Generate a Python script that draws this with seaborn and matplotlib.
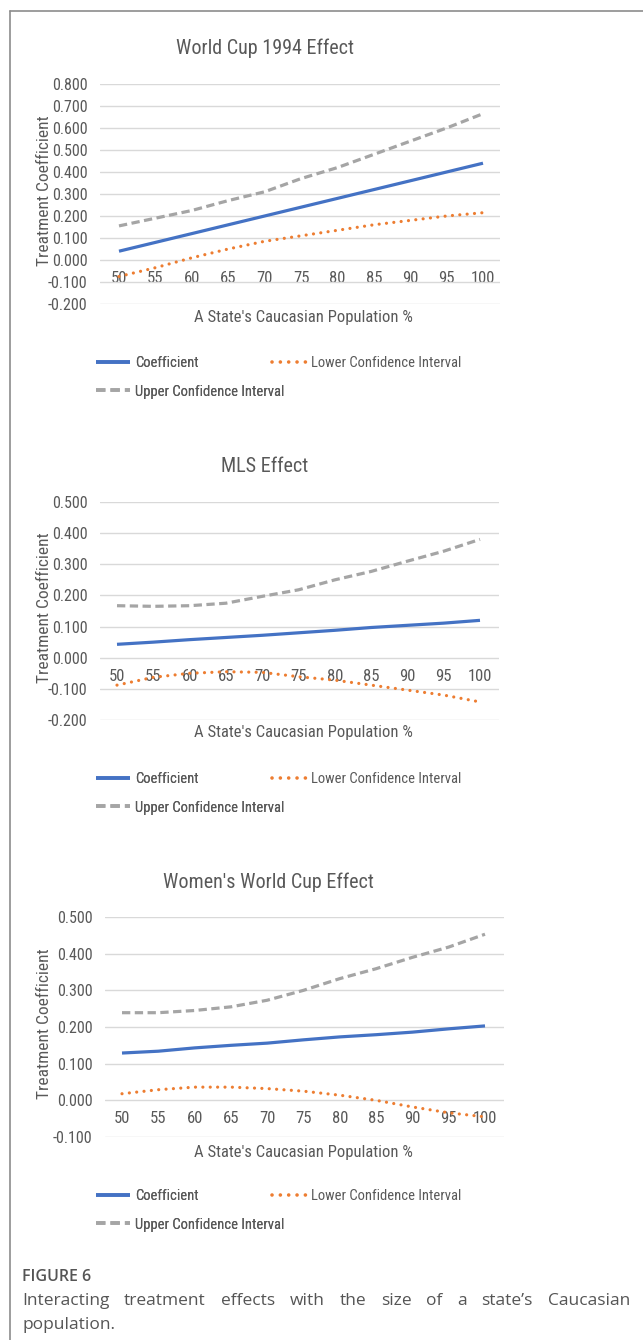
import matplotlib
matplotlib.use("Agg")
import matplotlib.pyplot as plt
import seaborn as sns
import pandas as pd
from matplotlib.lines import Line2D
from matplotlib import font_manager
from matplotlib.font_manager import FontProperties

sns.set_theme(style="white")

# ---------------- data ----------------
x_pct = [50, 55, 60, 65, 70, 75, 80, 85, 90, 95, 100]

wc94_coef = [0.040, 0.080, 0.120, 0.160, 0.200, 0.240, 0.280, 0.320, 0.360, 0.400, 0.440]
wc94_lower = [-0.075, -0.035, 0.010, 0.050, 0.085, 0.110, 0.135, 0.160, 0.180, 0.200, 0.215]
wc94_upper = [0.155, 0.190, 0.225, 0.270, 0.310, 0.370, 0.420, 0.480, 0.540, 0.600, 0.665]

mls_coef = [0.043, 0.050, 0.058, 0.065, 0.072, 0.080, 0.088, 0.097, 0.104, 0.111, 0.120]
mls_lower = [-0.088, -0.063, -0.050, -0.045, -0.047, -0.061, -0.072, -0.088, -0.104, -0.120, -0.142]
mls_upper = [0.167, 0.165, 0.167, 0.175, 0.197, 0.218, 0.250, 0.277, 0.310, 0.342, 0.380]

wwc_coef = [0.129, 0.134, 0.143, 0.150, 0.156, 0.165, 0.173, 0.179, 0.186, 0.195, 0.203]
wwc_lower = [0.018, 0.029, 0.036, 0.036, 0.032, 0.025, 0.014, 0.000, -0.018, -0.034, -0.045]
wwc_upper = [0.239, 0.239, 0.245, 0.255, 0.273, 0.300, 0.332, 0.359, 0.390, 0.418, 0.453]

titles = ["World Cup 1994 Effect", "MLS Effect", "Women's World Cup Effect"]
y_ticks = [
    [-0.2, -0.1, 0.0, 0.1, 0.2, 0.3, 0.4, 0.5, 0.6, 0.7, 0.8],
    [-0.2, -0.1, 0.0, 0.1, 0.2, 0.3, 0.4, 0.5],
    [-0.1, 0.0, 0.1, 0.2, 0.3, 0.4, 0.5],
]
series_names = ["Coefficient", "Lower Confidence Interval", "Upper Confidence Interval"]
x_label = "A State's Caucasian Population %"
y_label = "Treatment Coefficient"
caption_head = "FIGURE 6"
caption_text = "Interacting treatment effects with the size of a state\u2019s Caucasian population."

panels = [
    (wc94_coef, wc94_lower, wc94_upper),
    (mls_coef, mls_lower, mls_upper),
    (wwc_coef, wwc_lower, wwc_upper),
]

# ---------------- fonts ----------------
cond = None
for f in font_manager.fontManager.ttflist:
    if (str(f.stretch) in ("condensed", "semi-condensed", "extra-condensed", "ultra-condensed")
            or (isinstance(f.stretch, int) and f.stretch < 500)
            or "Narrow" in f.name or "Condensed" in f.name):
        if f.style == "normal" and f.weight in (400, "normal", "regular") and "Bold" not in f.fname \
                and "Italic" not in f.fname:
            cond = f
            if "Liberation" in f.name or "Roboto" in f.name:
                break

if cond is not None:
    def FP(size):
        return FontProperties(fname=cond.fname, size=size)
    SC = 1.0
else:
    def FP(size):
        return FontProperties(family=["Roboto", "DejaVu Sans"], size=size)
    SC = 0.86

TXT = "#595959"
colors = {"Coefficient": "#4472C4",
          "Lower Confidence Interval": "#ED7D31",
          "Upper Confidence Interval": "#A5A5A5"}
dashes = {"Coefficient": "",
          "Lower Confidence Interval": (0.01, 2.3),
          "Upper Confidence Interval": (2.6, 1.4)}

W, H = 643, 1340
fig = plt.figure(figsize=(W / 100, H / 100), dpi=100)
fig.patch.set_facecolor("white")

boxes = [
    dict(l=100, r=500, t=84, b=304, x50=119, x100=483, title_x=265, title_y=48, xl_y=318, leg_y=362),
    dict(l=100, r=499, t=502, b=720, x50=117, x100=480, title_x=265, title_y=467, xl_y=733, leg_y=778),
    dict(l=105, r=504, t=917, b=1137, x50=122, x100=485, title_x=268, title_y=882, xl_y=1152, leg_y=1195),
]

for (coef, lower, upper), box, title, yt in zip(panels, boxes, titles, y_ticks):
    ax = fig.add_axes([box["l"] / W, 1 - box["b"] / H,
                       (box["r"] - box["l"]) / W, (box["b"] - box["t"]) / H])
    df = pd.DataFrame({"x": x_pct * 3,
                       "value": coef + lower + upper,
                       "series": [series_names[0]] * 11 + [series_names[1]] * 11 + [series_names[2]] * 11})
    sns.lineplot(data=df, x="x", y="value", hue="series", style="series",
                 palette=colors, dashes=dashes, hue_order=series_names,
                 style_order=series_names, linewidth=2.3, ax=ax, legend=False)
    for ln in ax.get_lines():
        c = matplotlib.colors.to_hex(ln.get_color()).upper()
        if c == colors["Lower Confidence Interval"].upper():
            ln.set_dash_capstyle("round")
        else:
            ln.set_dash_capstyle("butt")
        ln.set_solid_capstyle("butt")
    ax.spines["bottom"].set_position(("data", 0))
    for s in ax.spines.values():
        s.set_visible(False)
    ppu = (box["x100"] - box["x50"]) / 50.0
    ax.set_xlim(50 - (box["x50"] - box["l"]) / ppu, 100 + (box["r"] - box["x100"]) / ppu)
    ax.set_ylim(yt[0], yt[-1])
    ax.set_yticks(yt)
    ax.set_yticklabels([f"{v:.3f}" for v in yt], color=TXT, fontproperties=FP(11.5 * SC))
    ax.set_xticks(x_pct)
    ax.set_xticklabels([str(v) for v in x_pct], color=TXT, fontproperties=FP(12 * SC))
    ax.tick_params(axis="both", length=0)
    ax.tick_params(axis="x", pad=8)
    ax.tick_params(axis="y", pad=9)
    ax.grid(axis="y", color="#D9D9D9", linewidth=1.0)
    ax.grid(axis="x", visible=False)
    ax.set_axisbelow(True)
    ax.set_xlabel("")
    ax.set_ylabel("")

    fig.text(box["title_x"] / W, 1 - box["title_y"] / H, title,
             ha="center", va="center", color=TXT, fontproperties=FP(14.5 * SC))
    fig.text(303 / W, 1 - box["xl_y"] / H, x_label,
             ha="center", va="center", color=TXT, fontproperties=FP(12 * SC))
    fig.text(45 / W, 1 - ((box["t"] + box["b"]) / 2 - 3) / H, y_label, rotation=90,
             ha="center", va="center", color=TXT, fontproperties=FP(12.5 * SC))

    # legend: column 1 (Coefficient, Upper), column 2 (Lower)
    def handle(n):
        if n == "Coefficient":
            return Line2D([], [], color=colors[n], linewidth=2.6, linestyle="-",
                          solid_capstyle="butt")
        return Line2D([], [], color=colors[n], linewidth=2.6,
                      linestyle=(0, dashes[n]),
                      dash_capstyle="round" if n.startswith("Lower") else "butt")
    kw = dict(frameon=False, loc="upper left", prop=FP(10.5 * SC), labelcolor=TXT,
              handlelength=2.35, handletextpad=0.3, labelspacing=1.0,
              borderaxespad=0, borderpad=0)
    leg1 = fig.legend([handle(series_names[0]), handle(series_names[2])],
                      [series_names[0], series_names[2]],
                      bbox_to_anchor=(96 / W, 1 - (box["leg_y"] - 6) / H), **kw)
    fig.add_artist(leg1)
    fig.legend([handle(series_names[1])], [series_names[1]],
               bbox_to_anchor=(272 / W, 1 - (box["leg_y"] - 6) / H), **kw)

# outer frame
fig.add_artist(Line2D([10 / W, 10 / W], [0, 1 - 10.5 / H], color="#8C8C8C", linewidth=1.2,
                      transform=fig.transFigure))
fig.add_artist(Line2D([10 / W, 1], [1 - 10.5 / H, 1 - 10.5 / H], color="#8C8C8C", linewidth=1.2,
                      transform=fig.transFigure))

# caption
CAP = ["Open Sans", "DejaVu Sans"]
fig.text(22 / W, 1 - 1277 / H, caption_head, ha="left", va="center", fontsize=11.5,
         color="#555555", family=CAP, fontweight="semibold")
words = caption_text.split(" ")
line1 = words[:-1]
line2 = words[-1:]
renderer = fig.canvas.get_renderer()
tmp = [fig.text(0, 0, w, fontsize=12.5, family=CAP) for w in line1]
widths = [t.get_window_extent(renderer).width for t in tmp]
for t in tmp:
    t.remove()
x0, x1 = 22, 630
gap = (x1 - x0 - sum(widths)) / (len(line1) - 1)
xp = x0
for w, wd in zip(line1, widths):
    fig.text(xp / W, 1 - 1301 / H, w, ha="left", va="center", fontsize=12.5,
             color="#555555", family=CAP)
    xp += wd + gap
fig.text(22 / W, 1 - 1325 / H, " ".join(line2), ha="left", va="center", fontsize=12.5,
         color="#555555", family=CAP)

fig.savefig("out.png", dpi=100, facecolor="white")
